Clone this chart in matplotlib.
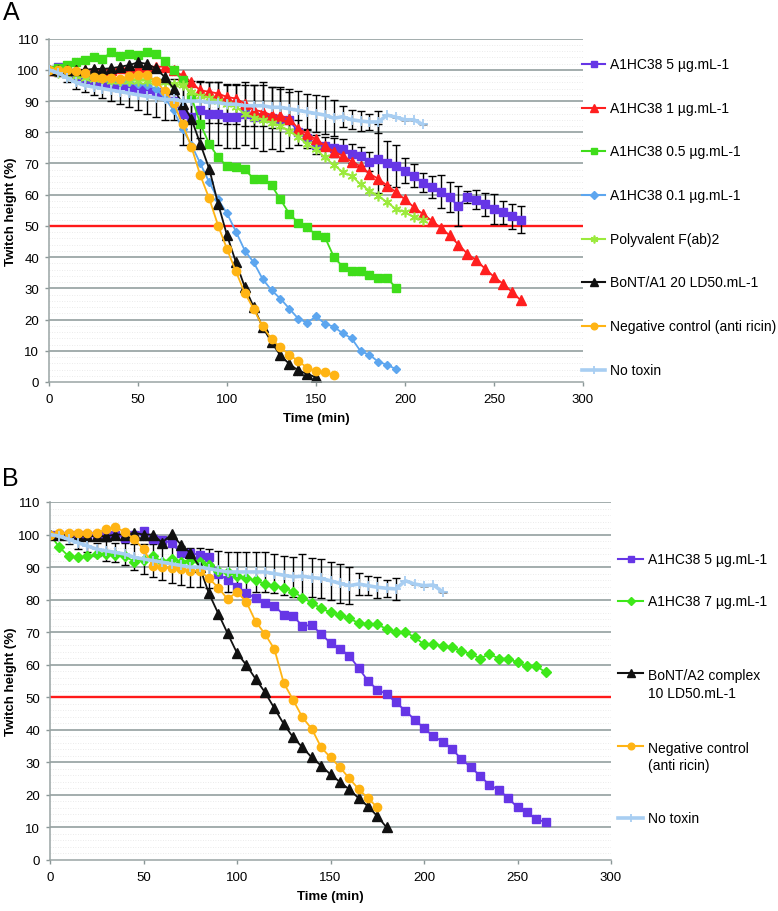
import matplotlib
matplotlib.use("Agg")
import matplotlib.pyplot as plt
from matplotlib.lines import Line2D
import numpy as np

plt.rcParams['font.family'] = ['Liberation Sans', 'DejaVu Sans']

# ---------------- Panel A data (time step 5 min) ----------------
A_5ug = [100, 101, 99, 98, 97, 96, 95.5, 95, 95, 94.5, 94, 94, 93, 92, 90, 86, 85, 87, 86, 86,
         85, 85, 86, 85, 85, 84.5, 84, 84, 80, 78, 76, 75.5, 75, 74.7, 73.1, 72.3, 70.6, 71.5,
         70.2, 69.1, 67.7, 66.1, 63.8, 62.4, 61, 59.2, 56.3, 59.2, 58.4, 57, 55.4, 54.4, 53.1, 52]
A_5ug_err = [0, 0, 0, 0, 0, 0, 0, 0, 0, 0, 0, 0, 0, 0, 0, 10, 10, 9, 10, 10,
             10, 10, 10, 10, 11, 10, 10, 9, 4, 3, 3, 3, 3, 3, 3, 3, 3, 11,
             7, 6.7, 4, 3.7, 3, 3.5, 5.3, 4.8, 6.4, 2, 3, 3.7, 4.8, 3.7, 4, 4.3]
A_1ug = [100, 100, 100, 100, 100, 100, 100, 100, 100.5, 100.5, 101, 101, 101, 101, 99.8, 98.2,
         96, 93.4, 93, 92.4, 91.3, 90.8, 89.2, 87.2, 86.6, 85.5, 85.3, 84.4, 81.2, 79.5, 77.7,
         75.7, 73.8, 72.5, 70.6, 69.1, 66.7, 65.1, 62.9, 60.8, 58.5, 56, 53.8, 51.7, 49.4, 47,
         44, 41.1, 39, 36.3, 33.7, 31.5, 28.9, 26.2]
A_05ug = [100, 100.5, 101.5, 102.4, 103, 104, 103.5, 105.7, 104.5, 105, 104.7, 105.7, 105.2,
          102.7, 99.8, 96.6, 91.3, 82.7, 76.3, 72, 69.1, 68.8, 68.1, 65.1, 65.1, 63, 58.5, 53.9,
          51, 49.5, 47.2, 46.4, 40.1, 36.9, 35.5, 35.5, 34.4, 33.3, 33.3, 30.1]
A_01ug = [100, 99.5, 99, 98.5, 98, 97.5, 97, 96.5, 96, 96, 95.5, 95, 94, 91, 87, 81, 76, 70, 64,
          58.5, 54, 48.2, 42.1, 38.3, 33, 29.4, 26.7, 23.5, 20.3, 19, 21, 18.7, 17.7, 15.6, 14,
          9.9, 8.7, 6.5, 5.5, 4.1]
A_poly = [100, 99, 98.5, 98, 97.5, 97, 97, 96.5, 96.5, 96.5, 96.5, 96.5, 96, 96, 95.5, 95, 93,
          91.6, 91, 90, 89, 88, 86, 84.7, 84, 83, 82, 80.5, 78.5, 76.3, 74.5, 72, 69.5, 67.3,
          66, 63.4, 61.3, 59.7, 57.5, 55.4, 54.4, 52.8, 52]
A_bont = [100, 100, 100, 100, 100, 100.3, 100.3, 100.5, 101, 101.5, 102.4, 101.9, 100.5, 97.7,
          94, 89.1, 84.3, 76.3, 68.3, 57.1, 47, 38.4, 30.4, 24, 17.6, 12.8, 8.5, 5.8, 3.7, 2.6, 1.5]
A_neg = [100, 100, 100, 99.5, 99, 97.7, 97.5, 97.5, 97, 98, 98.5, 98.5, 96.4, 93.2, 89.4, 82.6,
         75.3, 66.2, 58.8, 50.1, 42.6, 35.4, 28.5, 23.4, 17.8, 13.8, 11.1, 8.7, 6.7, 4.6, 3.5,
         3.1, 2.3]
A_notox = [100, 99, 97.5, 96, 95, 94.5, 94, 93.5, 93, 92.5, 92, 91.5, 91, 90.5, 90.5, 90, 90,
           90, 89.5, 89.5, 89, 89, 88.5, 88.5, 88.5, 88, 88, 87.5, 87, 86.5, 86, 85.5, 84.5, 85,
           84, 83.6, 83.3, 83.3, 85.5, 84.8, 84, 84, 82.5]
A_notox_err = [0, 1, 1.5, 2, 2, 2.5, 3, 3.5, 4, 4.5, 5, 5.5, 6, 6.5, 6.5, 6.5, 6.5, 6.5, 6.5, 6.5,
               6.5, 6.5, 6.5, 6.5, 6.5, 6.5, 6.5, 6.5, 6.1, 5.9, 5.9, 6.1, 5.7, 3.3, 3, 3.3, 2.6,
               3.4, 0, 0, 0, 0, 0]

# ---------------- Panel B data ----------------
B_5ug = [100, 100, 100, 100, 100, 100, 100, 100, 99, 100, 101.2, 98.6, 98.4, 97.3, 94.4, 94.4,
         93.7, 93, 87.9, 86.1, 84, 82, 80.5, 79.1, 78.1, 75.3, 75, 71.9, 72.2, 69.4, 66.7, 64.9,
         62.8, 59, 55.1, 52.3, 51, 48.4, 45.9, 43.1, 40.5, 38, 36.4, 34.1, 31, 28.5, 25.9, 23,
         21.6, 19, 16.2, 14.6, 12.6, 11.6]
B_7ug = [100, 96.1, 93.3, 93, 93.3, 94, 94, 93.7, 93.3, 91.7, 92.3, 93.3, 91.7, 92.5, 91.7, 92,
         91.7, 90.5, 88.9, 88.4, 87.4, 86.6, 85.9, 84.8, 84.3, 83.6, 82.5, 80.6, 79, 77.3, 76.1,
         75.3, 74.3, 72.8, 72.5, 72.5, 70.9, 70.2, 70.1, 68.4, 66.3, 66.3, 65.8, 65.3, 64.3,
         63.3, 61.9, 63.3, 61.9, 61.9, 60.7, 59.6, 59.6, 57.7]
B_bont = [100, 100, 100, 99.5, 99.5, 99.5, 99.5, 100, 100, 100.5, 100, 100, 97.5, 100.2, 96.9,
          94.4, 90.1, 81.9, 75.7, 69.6, 63.6, 59.9, 55.6, 51.5, 46.6, 41.8, 37.7, 34.6, 31.5, 29,
          26.3, 24, 21.7, 19, 16.5, 13.5, 10]
B_neg = [100, 100.5, 100.5, 100.5, 100.5, 100.5, 101.7, 102.2, 100.8, 98.6, 95.5, 90.4, 89.9,
         89.6, 89.4, 88.9, 88.9, 86.5, 83.7, 80.1, 82.4, 79.3, 73.2, 69.4, 64.8, 54.4, 49.2, 43.8,
         40.3, 34.6, 31.5, 28.5, 25.1, 21.8, 19, 16.2]
B_notox = [100, 99.5, 98.5, 97.5, 96.5, 95.5, 95, 94.5, 94, 93, 92.5, 92, 91.5, 91, 90.5, 90, 90,
           89.5, 89, 88.5, 88.5, 88.5, 88.5, 88.5, 88, 87.5, 87, 87.2, 86.8, 86.5, 85.8, 85, 84.3,
           84.8, 84.3, 83.8, 83.5, 83.3, 85.8, 84.8, 84.3, 84.5, 82.4]
B_notox_err = [0, 1, 1.5, 2, 2, 2, 3, 3, 3.5, 4, 4.5, 5, 5.5, 6, 6, 6, 6, 6, 6, 6, 6, 6, 6, 6, 6,
               6, 6.2, 6.7, 6.1, 5.9, 5.9, 6.1, 5.7, 3.3, 3, 3.3, 2.6, 3.4, 0, 0, 0, 0, 0]

x_ticks = [0, 50, 100, 150, 200, 250, 300]
y_ticks = list(range(0, 111, 10))

A_labels = ["A1HC38 5 µg.mL-1", "A1HC38 1 µg.mL-1", "A1HC38 0.5 µg.mL-1",
            "A1HC38 0.1 µg.mL-1", "Polyvalent F(ab)2", "BoNT/A1 20 LD50.mL-1",
            "Negative control (anti ricin)", "No toxin"]
B_labels = ["A1HC38 5 µg.mL-1", "A1HC38 7 µg.mL-1", "BoNT/A2 complex\n10 LD50.mL-1",
            "Negative control\n(anti ricin)", "No toxin"]

def tgrid(vals):
    return np.arange(len(vals)) * 5

PURPLE = '#6636e6'
RED = '#ff1f1f'
GREEN = '#3fdd1a'
LBLUE = '#5da6ef'
YGREEN = '#9bea3c'
BLACK = '#111111'
ORANGE = '#ffb414'
PALE = '#a8cef2'
GREEN7 = '#3ee81a'

styles_A = [
    dict(color=PURPLE, marker='s', ms=5.5),
    dict(color=RED, marker='^', ms=6.5),
    dict(color=GREEN, marker='s', ms=5.5),
    dict(color=LBLUE, marker='D', ms=4.5),
    dict(color=YGREEN, marker=(6, 2, 0), ms=7, mew=1.2),
    dict(color=BLACK, marker='^', ms=6.5),
    dict(color=ORANGE, marker='o', ms=6),
    dict(color=PALE, marker='+', ms=7, mew=1.3),
]
styles_B = [
    dict(color=PURPLE, marker='s', ms=6),
    dict(color=GREEN7, marker='D', ms=5),
    dict(color=BLACK, marker='^', ms=6.5),
    dict(color=ORANGE, marker='o', ms=6),
    dict(color=PALE, marker='+', ms=7, mew=1.3),
]

W, H = 778, 912
fig = plt.figure(figsize=(W / 100, H / 100), dpi=100)

def px_ax(l, t, r, b):
    return fig.add_axes([l / W, 1 - b / H, (r - l) / W, (b - t) / H])

axA = px_ax(49, 39.6, 583, 383)
axB = px_ax(50, 503, 611, 861)

def style_axes(ax, left_px, width_px):
    ax.set_xlim(0, 300)
    ax.set_ylim(0, 110)
    ax.set_xticks(x_ticks)
    ax.set_yticks(y_ticks)
    for y in np.arange(2, 110, 2):
        if y % 10:
            ax.axhline(y, color='#e4e4e4', lw=0.6, ls=(0, (1, 2)), zorder=0)
    for y in y_ticks[1:]:
        ax.axhline(y, color='#8a9797', lw=1.1, zorder=0.5)
    for s in ['top', 'right']:
        ax.spines[s].set_visible(False)
    for s in ['left', 'bottom']:
        ax.spines[s].set_color('#9aa4a4')
        ax.spines[s].set_linewidth(1.1)
    ax.tick_params(axis='both', colors='#8a9797', labelcolor='black', labelsize=9.5,
                   length=3, width=1)
    ax.tick_params(axis='y', pad=4)
    ax.tick_params(axis='x', pad=5)
    ax.set_xlabel('Time (min)', fontsize=9.5, fontweight='bold', labelpad=5)
    ax.set_ylabel('Twitch height (%)', fontsize=9.5, fontweight='bold')
    ax.yaxis.set_label_coords((17 - left_px) / width_px, 0.5)
    ax.axhline(50, color='#ff1a1a', lw=1.7, zorder=1.2)

style_axes(axA, 49, 534)
style_axes(axB, 50, 561)

# Panel A
A_series = [A_5ug, A_1ug, A_05ug, A_01ug, A_poly, A_bont, A_neg, A_notox]
for i, (vals, st) in enumerate(zip(A_series, styles_A)):
    lw = 2.6 if i == 7 else 1.3
    axA.plot(tgrid(vals), vals, lw=lw, color=st['color'], marker=st['marker'], ms=st['ms'],
             mew=st.get('mew', 1), mfc=st['color'], mec=st['color'], zorder=2 + i * 0.1)
axA.errorbar(tgrid(A_5ug), A_5ug, yerr=A_5ug_err, fmt='none', ecolor='black', elinewidth=1,
             capsize=3, capthick=1, zorder=1.8)
axA.errorbar(tgrid(A_notox), A_notox, yerr=A_notox_err, fmt='none', ecolor='black',
             elinewidth=1, capsize=3, capthick=1, zorder=1.8)

# Panel B
B_series = [B_5ug, B_7ug, B_bont, B_neg, B_notox]
for i, (vals, st) in enumerate(zip(B_series, styles_B)):
    lw = 2.6 if i == 4 else 1.3
    axB.plot(tgrid(vals), vals, lw=lw, color=st['color'], marker=st['marker'], ms=st['ms'],
             mew=st.get('mew', 1), mfc=st['color'], mec=st['color'], zorder=2 + i * 0.1)
axB.errorbar(tgrid(B_notox), B_notox, yerr=B_notox_err, fmt='none', ecolor='black',
             elinewidth=1, capsize=3, capthick=1, zorder=1.8)

# Legends (manual placement)
def legend_entry(x0, x1, y, text, st, lw, text_x, ytext=None):
    yf = 1 - y / H
    fig.add_artist(Line2D([x0 / W, x1 / W], [yf, yf], color=st['color'], lw=lw))
    fig.add_artist(Line2D([(x0 + x1) / 2 / W], [yf], color=st['color'], marker=st['marker'],
                          ms=st['ms'] * 0.8, mew=st.get('mew', 1), mfc=st['color'],
                          mec=st['color'], lw=0))
    yt = y if ytext is None else ytext
    fig.text(text_x / W, 1 - yt / H, text, fontsize=10, va='center', ha='left',
             linespacing=1.3)

A_leg_y = [65 + 43.67 * i for i in range(8)]
for i, (lab, st, y) in enumerate(zip(A_labels, styles_A, A_leg_y)):
    legend_entry(582, 605, y, lab, st, 2.6 if i == 7 else 1.5, 610)

B_leg_y = [560, 601.7, 674, 746.7, 819]
B_txt_y = [560, 601.7, 685, 757.5, 819]
for i, (lab, st, y, yt) in enumerate(zip(B_labels, styles_B, B_leg_y, B_txt_y)):
    legend_entry(618, 643, y, lab, st, 2.6 if i == 4 else 1.5, 648, yt)

fig.text(3 / W, 1 - 13 / H, 'A', fontsize=18, va='center', ha='left')
fig.text(2 / W, 1 - 479 / H, 'B', fontsize=18, va='center', ha='left')

fig.savefig('out.png', dpi=100)
